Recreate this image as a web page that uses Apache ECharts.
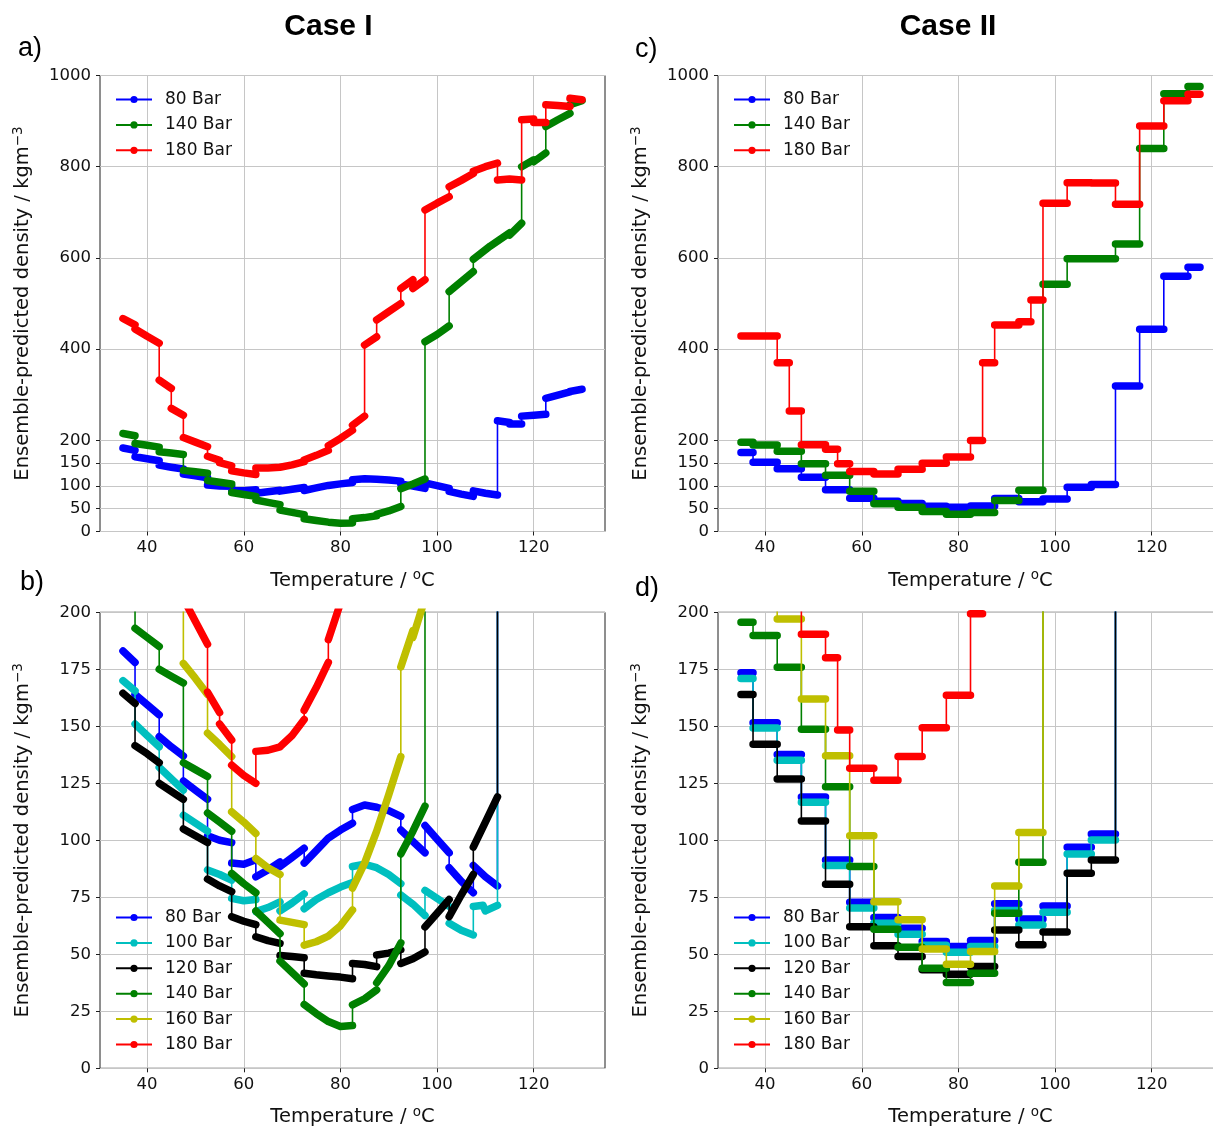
<!DOCTYPE html>
<html>
<head>
<meta charset="utf-8">
<script src="https://cdn.jsdelivr.net/npm/echarts@6/dist/echarts.min.js"></script>
<style>
  html, body { margin: 0; padding: 0; background: #ffffff; }
  #chart { width: 1213px; height: 1127px; }
</style>
</head>
<body>
<div id="chart"></div>
<script>
// ---------------------------------------------------------------------------
// Ensemble-predicted CO2 density versus temperature at several pressures.
// Case I: each list holds the continuous pieces of a curve, as
//         [temperature °C, density kg/m3] points.
// Case II: constant-density steps, as [start °C, end °C, density kg/m3].
// ---------------------------------------------------------------------------

const temperatureTicks = [40, 60, 80, 100, 120];
const densityTicksFull = [0, 50, 100, 150, 200, 400, 600, 800, 1000];
const densityTicksLow = [0, 25, 50, 75, 100, 125, 150, 175, 200];

const caseI_80 = [
  [[35, 183], [37.5, 178]],
  [[37.5, 164], [40, 159.5], [42.5, 155]],
  [[42.5, 145.5], [45, 141], [47.5, 137]],
  [[47.5, 126], [50, 122], [52.5, 118]],
  [[52.5, 102], [55, 100], [57.5, 99]],
  [[57.5, 90], [60, 89.5], [62.5, 91.5]],
  [[62.5, 84], [65, 87], [67.5, 90.5]],
  [[67.5, 88.5], [70, 92.5], [72.5, 96.5]],
  [[72.5, 90], [75, 95.5], [77.5, 101], [80, 104.5], [82.5, 107.5]],
  [[82.5, 113.5], [85, 115.5], [87.5, 114.5]],
  [[87.5, 114.5], [90, 113], [92.5, 110.5]],
  [[92.5, 104.5], [95, 99.5], [97.5, 94.5]],
  [[97.5, 106.5], [100, 100.5], [102.5, 94.5]],
  [[102.5, 88], [105, 82], [107.5, 77]],
  [[107.5, 89], [110, 84], [112.5, 80]],
  [[112.5, 243], [115, 239]],
  [[115, 235.5], [117.5, 235.5]],
  [[117.5, 253], [120, 255], [122.5, 257]],
  [[122.5, 292], [125, 299], [127.5, 306]],
  [[127.5, 307], [130, 312]]
];

const caseI_100 = [
  [[35, 170], [37.5, 165.5]],
  [[37.5, 151], [40, 146], [42.5, 141]],
  [[42.5, 132], [45, 127], [47.5, 122]],
  [[47.5, 111], [50, 107.5], [52.5, 104]],
  [[52.5, 87], [55, 85], [57.5, 82.5]],
  [[57.5, 74.5], [60, 73.5], [62.5, 74]],
  [[62.5, 68.7], [65, 70.5], [67.5, 73]],
  [[67.5, 69], [70, 72.5], [72.5, 76.5]],
  [[72.5, 70], [75, 74], [77.5, 77], [80, 79.5], [82.5, 81.5]],
  [[82.5, 88.5], [85, 89.5], [87.5, 88]],
  [[87.5, 88], [90, 85], [92.5, 81]],
  [[92.5, 76], [95, 72], [97.5, 67]],
  [[97.5, 78], [100, 74.5], [102.5, 71]],
  [[102.5, 63.6], [105, 60.5], [107.5, 58.5]],
  [[107.5, 71], [109.5, 71.5], [110, 69], [112.5, 71.5]],
  [[112.5, 235], [117.5, 245]]
];

const caseI_120 = [
  [[35, 164.5], [37.5, 160]],
  [[37.5, 141.5], [40, 138], [42.5, 134]],
  [[42.5, 125], [45, 121.5], [47.5, 118]],
  [[47.5, 105], [50, 102], [52.5, 99]],
  [[52.5, 83], [55, 80], [57.5, 77.5]],
  [[57.5, 66.5], [60, 64.5], [62.5, 63]],
  [[62.5, 57.7], [65, 56], [67.5, 54.8]],
  [[67.5, 49.5], [70, 49], [72.5, 48.5]],
  [[72.5, 41.7], [75, 41], [77.5, 40.5], [80, 40], [82.5, 39.3]],
  [[82.5, 46], [85, 45.5], [87.5, 44.6]],
  [[87.5, 49.7], [90, 50.5], [92.5, 52]],
  [[92.5, 46], [95, 48], [97.5, 51]],
  [[97.5, 62], [100, 68], [102.5, 74]],
  [[102.5, 66.5], [105, 76], [107.5, 85]],
  [[107.5, 97], [110, 108], [112.5, 119]],
  [[112.5, 330], [117.5, 345]]
];

const caseI_140 = [
  [[35, 215], [37.5, 210]],
  [[37.5, 193], [40, 189], [42.5, 185]],
  [[42.5, 175], [45, 172], [47.5, 169]],
  [[47.5, 134], [50, 131], [52.5, 128]],
  [[52.5, 112], [55, 108], [57.5, 104]],
  [[57.5, 85.5], [60, 81], [62.5, 77]],
  [[62.5, 69], [65, 64], [67.5, 59]],
  [[67.5, 47], [70, 42], [72.5, 37]],
  [[72.5, 28], [75, 24], [77.5, 20.5], [80, 18.3], [82.5, 18.8]],
  [[82.5, 27.8], [85, 30.5], [87.5, 34.4]],
  [[87.5, 37.5], [90, 45], [92.5, 55]],
  [[92.5, 94], [95, 104], [97.5, 115]],
  [[97.5, 416], [100, 432], [102.5, 451]],
  [[102.5, 526], [105, 548], [107.5, 570]],
  [[107.5, 597], [111, 626], [115, 655]],
  [[115, 650], [117.5, 676]],
  [[117.5, 800], [120, 815]],
  [[120, 811], [122.5, 830]],
  [[122.5, 888], [125, 903], [127.5, 917]],
  [[127.5, 936], [130, 945]]
];

const caseI_160 = [
  [[35, 265], [37.5, 258]],
  [[37.5, 250], [42.5, 240]],
  [[42.5, 232], [47.5, 222]],
  [[47.5, 177.6], [50, 171], [52.5, 164]],
  [[52.5, 147], [55, 142], [57.5, 136.7]],
  [[57.5, 112.5], [60, 108], [62.5, 103]],
  [[62.5, 92], [65, 88], [67.5, 85]],
  [[67.5, 65], [70, 64], [72.5, 63]],
  [[72.5, 54], [75, 55.5], [77.5, 58]],
  [[77.5, 58], [80, 62.5], [82.5, 69.4]],
  [[82.5, 79], [85, 90], [87.5, 104]],
  [[87.5, 104], [90, 120], [92.5, 136.7]],
  [[92.5, 176], [95, 192]],
  [[95, 189], [97.5, 206]]
];

const caseI_180 = [
  [[35, 467], [37.5, 453]],
  [[37.5, 444], [40, 428], [42.5, 413]],
  [[42.5, 332], [45, 314]],
  [[45, 270], [47.5, 255]],
  [[47.5, 206], [50, 196], [52.5, 186]],
  [[52.5, 165], [55, 156]],
  [[55, 151], [57.5, 144]],
  [[57.5, 133], [60, 128.5], [62.5, 125]],
  [[62.5, 139], [65, 139.5], [67.5, 141]],
  [[67.5, 141], [70, 146], [72.5, 153]],
  [[72.5, 157], [75, 167], [77.5, 178]],
  [[77.5, 188], [80, 204], [82.5, 222]],
  [[82.5, 233], [85, 253]],
  [[85, 409], [87.5, 427]],
  [[87.5, 464], [90, 482], [92.5, 500]],
  [[92.5, 533], [95, 552]],
  [[95, 533], [97.5, 552]],
  [[97.5, 705], [100, 720], [102.5, 734]],
  [[102.5, 756], [105, 770], [107.5, 785]],
  [[107.5, 790], [110, 800], [112.5, 808]],
  [[112.5, 771], [115, 773], [117.5, 771]],
  [[117.5, 903], [120, 904.5]],
  [[120, 897], [122.5, 897]],
  [[122.5, 936], [125, 934], [127.5, 932]],
  [[127.5, 950], [130, 947]]
];

const caseII_80 = [
  [35, 37.5, 173.5], [37.5, 42.5, 151.6], [42.5, 47.5, 137.6], [47.5, 52.5, 119], [52.5, 57.5, 91.4],
  [57.5, 62.5, 72.8], [62.5, 67.5, 66.1], [67.5, 72.5, 61.4], [72.5, 77.5, 55.6], [77.5, 82.5, 53.4],
  [82.5, 87.5, 56], [87.5, 92.5, 72.2], [92.5, 97.5, 65.5], [97.5, 102.5, 71.2], [102.5, 107.5, 96.9],
  [107.5, 112.5, 102.8], [112.5, 117.5, 319], [117.5, 122.5, 443.3], [122.5, 127.5, 560], [127.5, 130, 579.4]
];

const caseII_100 = [
  [35, 37.5, 171], [37.5, 42.5, 149.3], [42.5, 47.5, 135.1], [47.5, 52.5, 116.7], [52.5, 57.5, 88.9],
  [57.5, 62.5, 70.3], [62.5, 67.5, 63.6], [67.5, 72.5, 58.8], [72.5, 77.5, 54], [77.5, 82.5, 50.9],
  [82.5, 87.5, 53.4], [87.5, 92.5, 69.2], [92.5, 97.5, 62.9], [97.5, 102.5, 68.4], [102.5, 107.5, 94],
  [107.5, 112.5, 100.1], [112.5, 117.5, 260]
];

const caseII_120 = [
  [35, 37.5, 164], [37.5, 42.5, 142.1], [42.5, 47.5, 126.9], [47.5, 52.5, 108.5], [52.5, 57.5, 80.7],
  [57.5, 62.5, 62.1], [62.5, 67.5, 53.7], [67.5, 72.5, 49], [72.5, 77.5, 43.2], [77.5, 82.5, 41.2],
  [82.5, 87.5, 44.6], [87.5, 92.5, 60.7], [92.5, 97.5, 54.2], [97.5, 102.5, 59.8], [102.5, 107.5, 85.5],
  [107.5, 112.5, 91.4], [112.5, 117.5, 300]
];

const caseII_140 = [
  [35, 37.5, 195.6], [37.5, 42.5, 189.8], [42.5, 47.5, 175.9], [47.5, 52.5, 148.7], [52.5, 57.5, 123.5],
  [57.5, 62.5, 88.5], [62.5, 67.5, 61], [67.5, 72.5, 53.1], [72.5, 77.5, 43.9], [77.5, 82.5, 37.6],
  [82.5, 87.5, 41.7], [87.5, 92.5, 68], [92.5, 97.5, 90.4], [97.5, 102.5, 542], [102.5, 107.5, 598],
  [107.5, 112.5, 598], [112.5, 117.5, 630.6], [117.5, 122.5, 839.8], [122.5, 127.5, 959.8], [127.5, 130, 975.8]
];

const caseII_160 = [
  [35, 37.5, 226], [37.5, 42.5, 214], [42.5, 47.5, 197.1], [47.5, 52.5, 162], [52.5, 57.5, 137.1],
  [57.5, 62.5, 102], [62.5, 67.5, 73.1], [67.5, 72.5, 65.1], [72.5, 77.5, 52.3], [77.5, 82.5, 45.6],
  [82.5, 87.5, 51.2], [87.5, 92.5, 80], [92.5, 97.5, 103.4], [97.5, 102.5, 330]
];

const caseII_180 = [
  [35, 42.5, 428.7], [42.5, 45, 370], [45, 47.5, 264], [47.5, 52.5, 190.4], [52.5, 55, 180.1],
  [55, 57.5, 148.4], [57.5, 62.5, 131.6], [62.5, 67.5, 126.3], [67.5, 72.5, 136.7], [72.5, 77.5, 149.4],
  [77.5, 82.5, 163.6], [82.5, 85, 199.4], [85, 87.5, 370], [87.5, 92.5, 452.8], [92.5, 95, 460],
  [95, 97.5, 507.7], [97.5, 102.5, 719.8], [102.5, 107.5, 765], [107.5, 112.5, 764], [112.5, 117.5, 717.6],
  [117.5, 122.5, 889.5], [122.5, 127.5, 944.4], [127.5, 130, 959]
];

// ---------------------------------------------------------------------------
// Styling and layout
// ---------------------------------------------------------------------------
const COLORS = {
  '80 Bar': '#0000ff',
  '100 Bar': '#00bfbf',
  '120 Bar': '#000000',
  '140 Bar': '#008000',
  '160 Bar': '#bfbf00',
  '180 Bar': '#ff0000'
};
const TICK_FONT = 'DejaVu Sans';
const INK = '#111111';

const stepsToSegments = steps => steps.map(([t0, t1, v]) => [[t0, v], [t1, v]]);

const caseIILists = {
  '80 Bar': stepsToSegments(caseII_80),
  '100 Bar': stepsToSegments(caseII_100),
  '120 Bar': stepsToSegments(caseII_120),
  '140 Bar': stepsToSegments(caseII_140),
  '160 Bar': stepsToSegments(caseII_160),
  '180 Bar': stepsToSegments(caseII_180)
};
const caseILists = {
  '80 Bar': caseI_80, '100 Bar': caseI_100, '120 Bar': caseI_120,
  '140 Bar': caseI_140, '160 Bar': caseI_160, '180 Bar': caseI_180
};

const fewNames = ['80 Bar', '140 Bar', '180 Bar'];
const allNames = ['80 Bar', '100 Bar', '120 Bar', '140 Bar', '160 Bar', '180 Bar'];

const panels = [
  { box: { left: 100, top: 75.5, width: 505, height: 456 }, yMax: 1000, yTicks: densityTicksFull,
    lists: caseILists, names: fewNames, legendTop: 90.5 },
  { box: { left: 100, top: 612.3, width: 505, height: 456 }, yMax: 200, yTicks: densityTicksLow,
    lists: caseILists, names: allNames, legendTop: 908.5 },
  { box: { left: 718, top: 75.5, width: 505, height: 456 }, yMax: 1000, yTicks: densityTicksFull,
    lists: caseIILists, names: fewNames, legendTop: 90.5 },
  { box: { left: 718, top: 612.3, width: 505, height: 456 }, yMax: 200, yTicks: densityTicksLow,
    lists: caseIILists, names: allNames, legendTop: 908.5 }
];

// Split a curve into a thin connector through every point and a thick
// dotted-marker band that breaks between the pieces.
function buildTraces(segments) {
  const line = [];
  const marks = [];
  segments.forEach((seg, k) => {
    if (k > 0) marks.push([seg[0][0], '-']);
    seg.forEach(p => { line.push(p); marks.push(p); });
  });
  return { line, marks };
}

const nameStyle = {
  fontSize: 19.5, fontFamily: TICK_FONT, color: INK, lineHeight: 24,
  rich: { sup: { fontSize: 13.5, fontFamily: TICK_FONT, color: INK, lineHeight: 13, verticalAlign: 'top' } }
};

const grid = [], xAxis = [], yAxis = [], series = [], legend = [];

panels.forEach((p, i) => {
  grid.push(Object.assign({
    show: true, borderColor: '#1e1e1e', borderWidth: 1, backgroundColor: 'transparent',
    containLabel: false, outerBoundsMode: 'none'
  }, p.box));

  xAxis.push({
    type: 'value', gridIndex: i, min: 30.25, max: 134.75,
    axisLine: { show: false },
    axisTick: { show: true, customValues: temperatureTicks, length: 4, lineStyle: { color: '#1e1e1e' } },
    axisLabel: { customValues: temperatureTicks, fontSize: 16.5, fontFamily: TICK_FONT, color: INK, margin: 8,
                 formatter: v => String(v) },
    splitLine: { show: true, lineStyle: { color: '#c6c6c6', width: 1 } },
    name: 'Temperature / {sup|o}C',
    nameLocation: 'middle', nameGap: 37,
    nameTextStyle: nameStyle
  });

  yAxis.push({
    type: 'value', gridIndex: i, min: 0, max: p.yMax,
    axisLine: { show: false },
    axisTick: { show: true, customValues: p.yTicks, length: 4, lineStyle: { color: '#1e1e1e' } },
    axisLabel: { customValues: p.yTicks, fontSize: 16.5, fontFamily: TICK_FONT, color: INK, margin: 9,
                 formatter: v => String(v) },
    splitLine: { show: true, lineStyle: { color: '#c6c6c6', width: 1 } },
    name: 'Ensemble-predicted density / kgm{sup|\u22123}',
    nameLocation: 'middle', nameGap: 65,
    nameTextStyle: nameStyle
  });

  p.names.forEach(name => {
    const tr = buildTraces(p.lists[name]);
    series.push({
      name, type: 'line', xAxisIndex: i, yAxisIndex: i,
      data: tr.line, symbol: 'circle', symbolSize: 7, showSymbol: false,
      lineStyle: { color: COLORS[name], width: 1.6 }, itemStyle: { color: COLORS[name] },
      silent: true, animation: false, clip: true
    });
    series.push({
      name, type: 'line', xAxisIndex: i, yAxisIndex: i,
      data: tr.marks, symbol: 'none', connectNulls: false,
      lineStyle: { color: COLORS[name], width: 7.5, cap: 'round', join: 'round' },
      itemStyle: { color: COLORS[name] },
      silent: true, animation: false, clip: true
    });
  });

  legend.push({
    data: p.names, orient: 'vertical', left: p.box.left + 15, top: p.legendTop,
    padding: 0, itemWidth: 36, itemHeight: 9, itemGap: 7.4, selectedMode: false,
    textStyle: { fontSize: 17, fontFamily: TICK_FONT, color: INK, lineHeight: 18, padding: [0, 0, 0, 8] }
  });
});

const titleFont = '"Liberation Sans", Arial, sans-serif';
const graphic = [
  { type: 'text', x: 328.5, y: 27, style: { text: 'Case I', font: 'bold 30px ' + titleFont, fill: '#000', textAlign: 'center', textVerticalAlign: 'middle' } },
  { type: 'text', x: 948, y: 27, style: { text: 'Case II', font: 'bold 30px ' + titleFont, fill: '#000', textAlign: 'center', textVerticalAlign: 'middle' } },
  { type: 'text', x: 18, y: 49, style: { text: 'a)', font: '27px ' + titleFont, fill: '#000', textAlign: 'left', textVerticalAlign: 'middle' } },
  { type: 'text', x: 20, y: 583, style: { text: 'b)', font: '27px ' + titleFont, fill: '#000', textAlign: 'left', textVerticalAlign: 'middle' } },
  { type: 'text', x: 635, y: 50, style: { text: 'c)', font: '27px ' + titleFont, fill: '#000', textAlign: 'left', textVerticalAlign: 'middle' } },
  { type: 'text', x: 635, y: 589, style: { text: 'd)', font: '27px ' + titleFont, fill: '#000', textAlign: 'left', textVerticalAlign: 'middle' } }
];

const chart = echarts.init(document.getElementById('chart'), null, { renderer: 'canvas', width: 1213, height: 1127 });
chart.setOption({
  backgroundColor: '#ffffff',
  animation: false,
  grid, xAxis, yAxis, series, legend, graphic
});
</script>
</body>
</html>
